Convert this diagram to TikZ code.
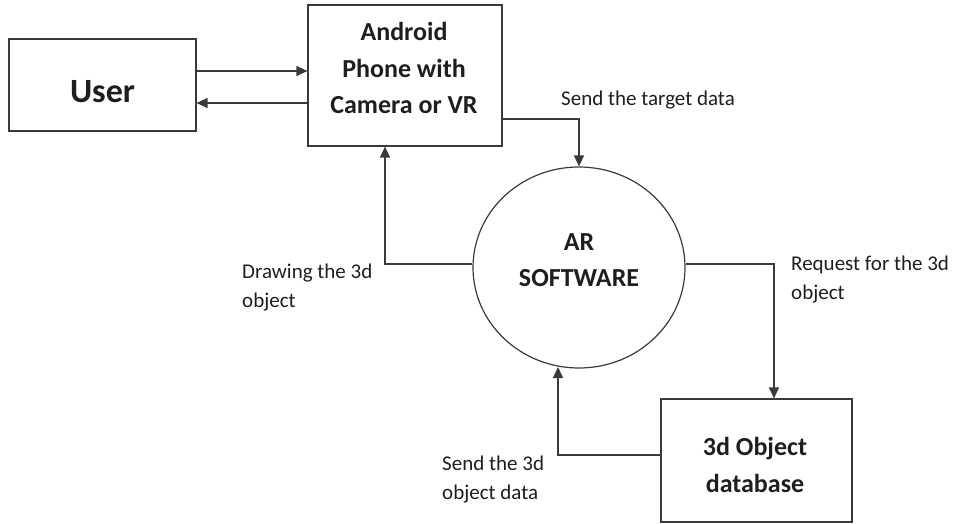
\documentclass[tikz,border=0pt]{standalone}
\usepackage{fontspec}
\setmainfont{Carlito}
\usetikzlibrary{arrows.meta,shapes.geometric}
\definecolor{ink}{HTML}{1E1E1E}
\definecolor{edge}{HTML}{3A3A3A}
\begin{document}
\begin{tikzpicture}[x=1pt,y=-1pt,
  shapebox/.style={draw=edge,line width=1.2pt,inner sep=0pt},
  bigtxt/.style={text=ink,font=\fontsize{26}{36.5}\selectfont\bfseries,align=center,inner sep=0pt},
  lbl/.style={text=ink,font=\fontsize{21}{29}\selectfont,align=left,inner sep=0pt},
  flow/.style={draw=edge,line width=1.3pt,-{Triangle[length=11pt,width=10pt]}}]
\useasboundingbox (0,0) rectangle (956,524);
% shapes
\node[shapebox,minimum width=187,minimum height=92] (user) at (102.5,85) {};
\node[shapebox,minimum width=194,minimum height=141] (android) at (405,75.5) {};
\node[shapebox,ellipse,minimum width=212,minimum height=201] (ar) at (579,267.5) {};
\node[shapebox,minimum width=191,minimum height=123] (db) at (756.5,460.5) {};
% texts
\node[bigtxt,font=\fontsize{34}{40}\selectfont\bfseries,anchor=base] (usert) at (102.5,103) {User};
\node[bigtxt,anchor=center] (androidt) at (404,68) {Android\\Phone with\\Camera or VR};
\node[bigtxt,anchor=center] (art) at (579,260) {AR\\SOFTWARE};
\node[bigtxt,anchor=center] (dbt) at (755,465) {3d Object\\database};
% connectors
\draw[flow] (user.east |- 0,71) -- (android.west |- 0,71);
\draw[flow] (android.west |- 0,103) -- (user.east |- 0,103);
\draw[flow] (android.east |- 0,119) -| (ar.north);
\draw[flow] (ar.west |- 0,264) -| (android.south -| 385,0);
\draw[flow] (ar.east |- 0,264) -| (db.north -| 774,0);
\coordinate (arbot) at (558,367);
\draw[flow] (db.west |- 0,455) -| (arbot);
% labels
\node[lbl,anchor=base west] (l1) at (561,106) {Send the target data};
\node[lbl,anchor=north west] (l2) at (242,264) {Drawing the 3d\\object};
\node[lbl,anchor=north west] (l3) at (791,256) {Request for the 3d\\object};
\node[lbl,anchor=north west] (l4) at (442,456) {Send the 3d\\object data};
\end{tikzpicture}
\end{document}
